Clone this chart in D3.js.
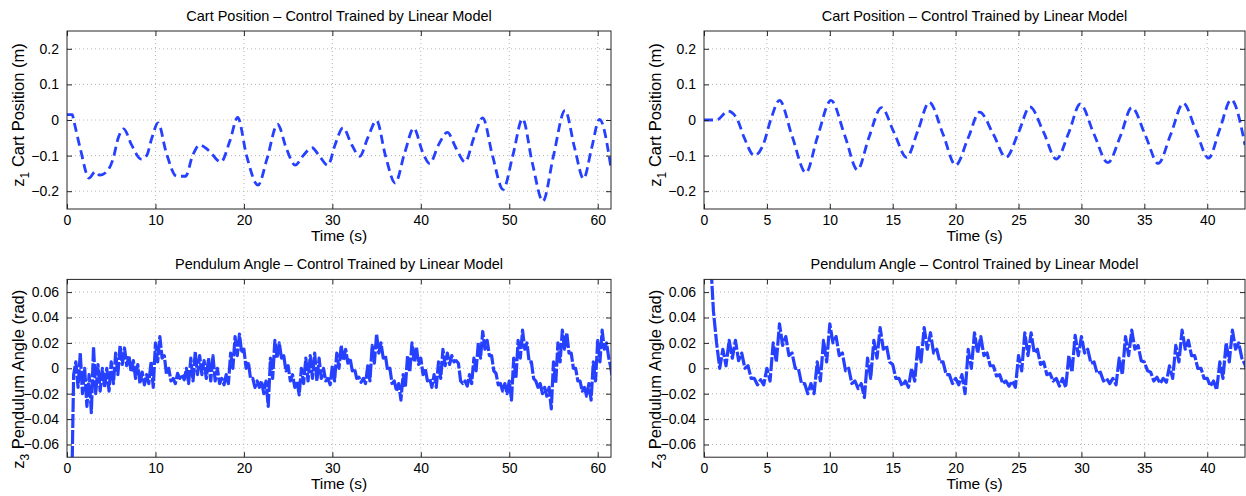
<!DOCTYPE html>
<html><head><meta charset="utf-8">
<script src="https://cdn.jsdelivr.net/npm/d3@7"></script>
<style>
body{margin:0;background:#fff}
svg{display:block}
text{font-family:"Liberation Sans",Arial,Helvetica,sans-serif;fill:#000}
</style>
</head><body>
<svg id="chart" width="1246" height="496"></svg>
<script>
// ---------- data ----------
const titlePos = "Cart Position \u2013 Control Trained by Linear Model";
const titleAng = "Pendulum Angle \u2013 Control Trained by Linear Model";
const xLabel = "Time (s)";

const xTicksLeft = [0, 10, 20, 30, 40, 50, 60];
const xTicksRight = [0, 5, 10, 15, 20, 25, 30, 35, 40];
const yTicksPos = [-0.2, -0.1, 0, 0.1, 0.2];
const yTicksAng = [-0.06, -0.04, -0.02, 0, 0.02, 0.04, 0.06];

// Cart position, left run (time s, value m)
const posLeftT = [0, 0.6, 0.75, 1.5, 2.5, 3.2, 3.7, 4.5, 5.2, 5.8, 6.4, 7.3, 8.4, 9.0, 9.6, 10.3, 11.2, 12.4, 13.4, 14.2, 15.0, 16.0, 17.4, 18.4, 19.3, 20.3, 21.6, 22.6, 23.8, 24.8, 25.8, 26.7, 27.7, 28.5, 29.5, 30.3, 31.2, 32.2, 33.1, 34.0, 35.0, 36.0, 37.1, 38.2, 39.2, 40.2, 41.0, 42.0, 43.0, 44.0, 45.0, 46.0, 47.0, 48.1, 49.3, 50.4, 51.5, 52.6, 53.8, 55.0, 56.3, 57.4, 58.4, 59.3, 60.2, 61.5];
const posLeftV = [0.015, 0.015, 0.0, -0.08, -0.163, -0.145, -0.155, -0.145, -0.11, -0.05, -0.025, -0.07, -0.11, -0.1, -0.05, -0.008, -0.09, -0.158, -0.158, -0.1, -0.07, -0.085, -0.118, -0.06, 0.007, -0.1, -0.183, -0.11, -0.012, -0.08, -0.127, -0.1, -0.078, -0.1, -0.127, -0.07, -0.022, -0.07, -0.102, -0.05, -0.002, -0.1, -0.177, -0.09, -0.023, -0.09, -0.122, -0.07, -0.035, -0.08, -0.118, -0.05, 0.006, -0.1, -0.195, -0.1, 0.003, -0.12, -0.228, -0.1, 0.027, -0.08, -0.165, -0.08, 0.002, -0.135];

// Cart position, right run
const posRightT = [0, 1.0, 1.9, 2.6, 3.2, 4.0, 4.7, 5.3, 6.0, 7.0, 8.1, 9.0, 10.1, 11.2, 12.2, 13.1, 14.1, 15.1, 16.1, 17.0, 17.9, 19.0, 20.0, 21.0, 21.9, 23.0, 24.0, 25.0, 25.9, 27.0, 28.0, 29.0, 29.9, 31.0, 32.1, 33.1, 34.0, 35.1, 36.1, 37.1, 38.1, 39.1, 40.1, 41.0, 41.9, 43.0];
const posRightV = [0, 0, 0.025, 0.005, -0.05, -0.1, -0.07, 0.0, 0.055, -0.045, -0.148, -0.05, 0.055, -0.045, -0.14, -0.05, 0.035, -0.035, -0.105, -0.03, 0.05, -0.04, -0.127, -0.05, 0.022, -0.04, -0.105, -0.035, 0.037, -0.035, -0.11, -0.035, 0.045, -0.04, -0.12, -0.045, 0.035, -0.045, -0.122, -0.04, 0.047, -0.03, -0.107, -0.025, 0.057, -0.07];

// Pendulum angle: samples every 0.5 s from 0.5 s, upper and lower edge of the noisy trace
const angStep = 0.5;
const angStart = 0.5;
const angLeftHi = [
 -0.11, 0.005, 0.012, 0.0, -0.005, 0.017, 0.003, 0.0, 0.0, 0.005,
 0.012, 0.018, 0.016, 0.01, 0.006, 0.003, -0.003, -0.005, 0.005, 0.02,
 0.025, 0.01, 0.0, -0.008, -0.004, -0.005, 0.0, 0.008, 0.013, 0.01,
 0.006, 0.008, 0.01, 0.0, -0.008, -0.005, 0.012, 0.025, 0.027, 0.015,
 0.005, -0.008, -0.01, -0.01, -0.01, 0.008, 0.022, 0.02, 0.01, 0.002,
 -0.005, -0.01, 0.0, 0.008, 0.01, 0.012, 0.008, 0.0, -0.008, 0.002,
 0.012, 0.018, 0.015, 0.008, 0.0, -0.007, -0.008, 0.002, 0.018, 0.027,
 0.02, 0.01, 0.0, -0.01, -0.012, -0.005, 0.01, 0.02, 0.017, 0.008,
 0.0, -0.008, -0.005, 0.005, 0.015, 0.012, 0.01, 0.006, -0.01, -0.01,
 -0.005, 0.008, 0.02, 0.029, 0.022, 0.01, -0.004, -0.012, -0.012, -0.01,
 0.008, 0.022, 0.03, 0.02, 0.005, -0.01, -0.012, -0.015, -0.015, 0.005,
 0.02, 0.03, 0.028, 0.012, 0.0, -0.01, -0.015, -0.012, 0.005, 0.022,
 0.03, 0.02, 0.0];
const angLeftLo = [
 -0.005, -0.015, -0.02, -0.03, -0.035, -0.02, -0.018, -0.015, -0.018, -0.012,
 -0.005, 0.003, 0.002, -0.003, -0.008, -0.012, -0.013, -0.012, -0.015, 0.005,
 0.008, -0.005, -0.01, -0.012, -0.008, -0.009, -0.012, -0.01, -0.005, -0.005,
 -0.008, -0.01, -0.01, -0.012, -0.013, -0.012, 0.0, 0.01, 0.012, 0.0,
 -0.008, -0.015, -0.015, -0.02, -0.03, -0.008, 0.008, 0.008, -0.002, -0.01,
 -0.015, -0.021, -0.012, -0.01, -0.008, -0.01, -0.008, -0.01, -0.013, -0.01,
 0.0, 0.006, 0.004, -0.002, -0.008, -0.011, -0.012, -0.01, 0.004, 0.012,
 0.008, -0.002, -0.012, -0.018, -0.025, -0.015, -0.003, 0.005, 0.003, -0.005,
 -0.01, -0.015, -0.015, -0.008, 0.002, 0.003, 0.005, 0.004, -0.012, -0.014,
 -0.012, -0.002, 0.008, 0.015, 0.01, -0.002, -0.013, -0.018, -0.02, -0.025,
 -0.008, 0.008, 0.015, 0.005, -0.008, -0.015, -0.02, -0.022, -0.032, -0.012,
 0.005, 0.015, 0.012, 0.0, -0.01, -0.018, -0.022, -0.025, -0.01, 0.005,
 0.015, 0.008, -0.015];
const angRightHi = [
 0.09, 0.02, 0.015, 0.022, 0.022, 0.012, 0.002, -0.008, -0.009, 0.0,
 0.02, 0.035, 0.025, 0.012, 0.0, -0.012, -0.012, 0.005, 0.022, 0.035,
 0.025, 0.012, 0.0, -0.01, -0.012, 0.008, 0.022, 0.032, 0.018, 0.003,
 -0.008, -0.01, 0.0, 0.018, 0.032, 0.028, 0.015, 0.005, -0.005, -0.008,
 -0.005, 0.015, 0.028, 0.025, 0.012, 0.002, -0.005, -0.01, -0.01, 0.01,
 0.028, 0.028, 0.015, 0.005, -0.004, -0.008, -0.008, 0.01, 0.026, 0.025,
 0.015, 0.005, -0.003, -0.008, -0.008, 0.008, 0.025, 0.03, 0.018, 0.005,
 -0.003, -0.007, -0.008, 0.002, 0.018, 0.03, 0.022, 0.01, 0.0, -0.008,
 -0.01, 0.005, 0.02, 0.03, 0.02, 0.003];
const angRightLo = [
 0.045, 0.0, 0.002, 0.008, 0.006, 0.0, -0.008, -0.013, -0.013, -0.01,
 0.005, 0.018, 0.01, 0.0, -0.012, -0.02, -0.02, -0.01, 0.005, 0.02,
 0.01, -0.002, -0.012, -0.016, -0.023, -0.008, 0.008, 0.015, 0.005, -0.008,
 -0.014, -0.015, -0.01, 0.005, 0.015, 0.012, 0.005, -0.005, -0.012, -0.013,
 -0.02, 0.0, 0.012, 0.01, 0.002, -0.006, -0.012, -0.014, -0.015, -0.002,
 0.01, 0.012, 0.003, -0.005, -0.01, -0.014, -0.015, -0.003, 0.01, 0.012,
 0.004, -0.004, -0.01, -0.012, -0.013, -0.005, 0.01, 0.015, 0.006, -0.002,
 -0.01, -0.012, -0.011, -0.008, 0.005, 0.015, 0.01, 0.0, -0.008, -0.014,
 -0.017, -0.008, 0.005, 0.015, 0.008, -0.006];

// ---------- drawing ----------
const svg = d3.select("#chart");
const lineColor = "#2540ff";
const axisColor = "#262626";

function zipXY(ts, vs) { return ts.map((t, i) => [t, vs[i]]); }
function interleave(hi, lo) {
  const pts = [];
  hi.forEach((h, i) => {
    const t = angStart + i * angStep;
    pts.push([t, h]);
    pts.push([t + angStep / 2, lo[i]]);
  });
  return pts;
}

const panels = [
  {id: "tl", left: 67, right: 611, top: 31, bottom: 209, xDom: [0, 61.5], yDom: [-0.25, 0.25],
   xt: xTicksLeft, yt: yTicksPos, title: titlePos, sub: "1", ylab: " Cart Position (m)",
   pts: zipXY(posLeftT, posLeftV), smooth: true, labShift: -5},
  {id: "tr", left: 704, right: 1245, top: 31, bottom: 209, xDom: [0, 43], yDom: [-0.25, 0.25],
   xt: xTicksRight, yt: yTicksPos, title: titlePos, sub: "1", ylab: " Cart Position (m)",
   pts: zipXY(posRightT, posRightV), smooth: true, labShift: -5},
  {id: "bl", left: 67, right: 611, top: 279.4, bottom: 457.2, xDom: [0, 61.5], yDom: [-0.07, 0.07],
   xt: xTicksLeft, yt: yTicksAng, title: titleAng, sub: "3", ylab: " Pendulum Angle (rad)",
   pts: interleave(angLeftHi, angLeftLo), smooth: false, labShift: 11},
  {id: "br", left: 704, right: 1245, top: 279.4, bottom: 457.2, xDom: [0, 43], yDom: [-0.07, 0.07],
   xt: xTicksRight, yt: yTicksAng, title: titleAng, sub: "3", ylab: " Pendulum Angle (rad)",
   pts: interleave(angRightHi, angRightLo), smooth: false, labShift: 11}
];

const fmt = d3.format("");

panels.forEach(p => {
  const x = d3.scaleLinear().domain(p.xDom).range([p.left, p.right]);
  const y = d3.scaleLinear().domain(p.yDom).range([p.bottom, p.top]);
  const g = svg.append("g");

  g.append("rect").attr("x", p.left).attr("y", p.top)
    .attr("width", p.right - p.left).attr("height", p.bottom - p.top).attr("fill", "#fff");

  // grid
  g.append("g").selectAll("line").data(p.xt.filter(v => x(v) > p.left + 1 && x(v) < p.right - 1)).join("line")
    .attr("x1", d => x(d)).attr("x2", d => x(d)).attr("y1", p.top).attr("y2", p.bottom)
    .attr("stroke", "#b8b8b8").attr("stroke-width", 1).attr("stroke-dasharray", "1,3");
  g.append("g").selectAll("line").data(p.yt).join("line")
    .attr("x1", p.left).attr("x2", p.right).attr("y1", d => y(d)).attr("y2", d => y(d))
    .attr("stroke", "#b8b8b8").attr("stroke-width", 1).attr("stroke-dasharray", "1,3");

  // data line
  const clipId = "clip-" + p.id;
  svg.append("clipPath").attr("id", clipId).append("rect")
    .attr("x", p.left).attr("y", p.top).attr("width", p.right - p.left).attr("height", p.bottom - p.top);
  const line = d3.line().x(d => x(d[0])).y(d => y(d[1]))
    .curve(p.smooth ? d3.curveMonotoneX : d3.curveLinear);
  g.append("path").datum(p.pts).attr("clip-path", `url(#${clipId})`)
    .attr("d", line).attr("fill", "none").attr("stroke", lineColor)
    .attr("stroke-width", p.smooth ? 2.8 : 3.2)
    .attr("stroke-dasharray", p.smooth ? "9,5" : "14,2")
    .attr("stroke-linejoin", "round");

  // axes (ticks pointing inward)
  const ax = g.append("g").attr("transform", `translate(0,${p.bottom})`)
    .call(d3.axisBottom(x).tickValues(p.xt).tickSizeInner(-5).tickSizeOuter(0).tickPadding(6).tickFormat(fmt));
  const ay = g.append("g").attr("transform", `translate(${p.left},0)`)
    .call(d3.axisLeft(y).tickValues(p.yt).tickSizeInner(-5).tickSizeOuter(0).tickPadding(8).tickFormat(fmt));
  const at = g.append("g").attr("transform", `translate(0,${p.top})`)
    .call(d3.axisTop(x).tickValues(p.xt).tickSizeInner(-5).tickSizeOuter(0).tickFormat(""));
  const ar = g.append("g").attr("transform", `translate(${p.right},0)`)
    .call(d3.axisRight(y).tickValues(p.yt).tickSizeInner(-5).tickSizeOuter(0).tickFormat(""));
  [ax, ay, at, ar].forEach(a => {
    a.select(".domain").remove();
    a.selectAll(".tick line").attr("stroke", axisColor);
    a.selectAll("text").attr("font-size", 14).attr("fill", "#000")
      .style("font-family", '"Liberation Sans", Arial, sans-serif');
  });

  g.append("rect").attr("x", p.left).attr("y", p.top)
    .attr("width", p.right - p.left).attr("height", p.bottom - p.top)
    .attr("fill", "none").attr("stroke", axisColor).attr("stroke-width", 1);

  // title
  g.append("text").attr("x", (p.left + p.right) / 2).attr("y", p.top - 10)
    .attr("text-anchor", "middle").attr("font-size", 14.5).text(p.title);
  // x label
  g.append("text").attr("x", (p.left + p.right) / 2).attr("y", p.bottom + 32)
    .attr("text-anchor", "middle").attr("font-size", 15.5).text(xLabel);
  // y label
  const yl = g.append("text")
    .attr("transform", `translate(${p.left - 43},${(p.top + p.bottom) / 2 + p.labShift}) rotate(-90)`)
    .attr("text-anchor", "middle").attr("font-size", 16.5);
  yl.append("tspan").text("z");
  yl.append("tspan").attr("font-size", 12).attr("dy", 5).text(p.sub);
  yl.append("tspan").attr("dy", -5).text(p.ylab);
});
</script>
</body></html>
